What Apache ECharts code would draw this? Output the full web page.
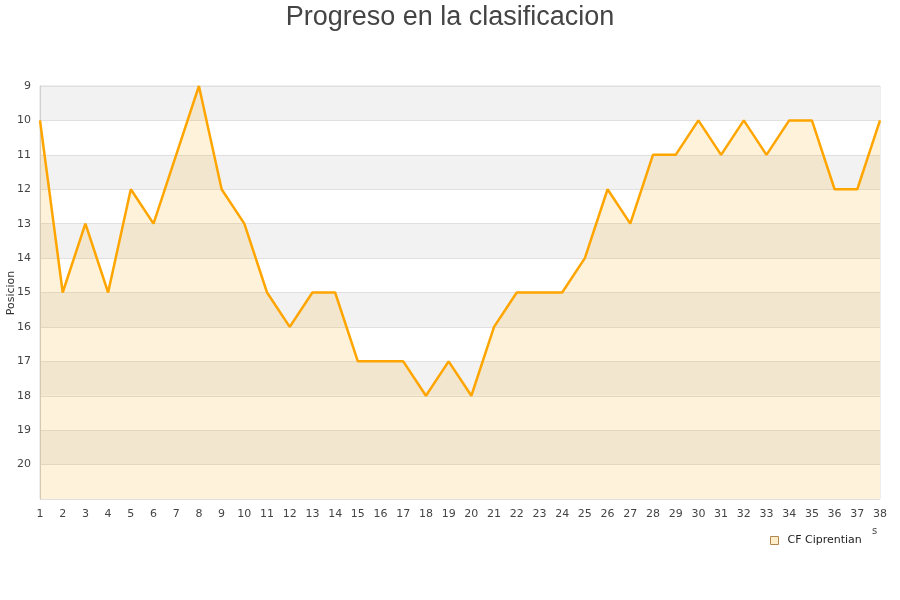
<!DOCTYPE html>
<html><head><meta charset="utf-8">
<script src="https://cdn.jsdelivr.net/npm/echarts@6/dist/echarts.min.js"></script>
<style>html,body{margin:0;padding:0;background:#fff}#c{width:900px;height:600px}</style>
</head><body><div id="c"></div>
<script>
const jornadas = ['1','2','3','4','5','6','7','8','9','10','11','12','13','14','15','16','17','18','19','20','21','22','23','24','25','26','27','28','29','30','31','32','33','34','35','36','37','38'];
const posiciones = [10,15,13,15,12,13,11,9,12,13,15,16,15,15,17,17,17,18,17,18,16,15,15,15,14,12,13,11,11,10,11,10,11,10,10,12,12,10];
const teamName = 'CF Ciprentian';
const titleText = 'Progreso en la clasificacion';
const yName = 'Posicion';

const chart = echarts.init(document.getElementById('c'));
chart.setOption({
  animation: false,
  title: { text: titleText, left: 'center', top: -1,
    textStyle: { fontFamily: 'Liberation Sans', fontSize: 27, fontWeight: 'normal', color: '#444' } },
  grid: { left: 40, right: 20, top: 86, bottom: 101, containLabel: false, outerBoundsMode: 'none' },
  legend: { left: 765, top: 530, itemWidth: 8, itemHeight: 8, icon: 'rect',
    data: [{ name: teamName, itemStyle: { color: 'rgba(255,165,0,0.2)', borderColor: '#b08850', borderWidth: 1 } }],
    textStyle: { fontFamily: 'DejaVu Sans', fontSize: 11, color: '#222', padding: [0, 0, 0, 4] } },
  xAxis: { type: 'category', data: jornadas, boundaryGap: false,
    axisLine: { show: false }, axisTick: { show: false },
    axisLabel: { fontFamily: 'DejaVu Sans', fontSize: 11, color: '#444', margin: 10, interval: 0 },
    splitLine: { show: false } },
  yAxis: { type: 'value', inverse: true, min: 9, max: 21, interval: 1,
    axisLine: { show: true, lineStyle: { color: '#d0d0d0' } }, axisTick: { show: false },
    axisLabel: { fontFamily: 'DejaVu Sans', fontSize: 11, color: '#444', margin: 9,
      formatter: v => v === 21 ? '' : String(v) },
    splitLine: { show: true, lineStyle: { color: '#e0e0e0' } },
    splitArea: { show: true, areaStyle: { color: ['#f2f2f2', '#ffffff'] } } },
  graphic: [
    { type: 'rect', shape: { x: 40, y: 86, width: 840, height: 413 }, style: { fill: 'none', stroke: '#dcdcdc', lineWidth: 1 }, z: 0, silent: true },
    { type: 'text', left: 872, top: 526, style: { text: 's', fontFamily: 'DejaVu Sans', fontSize: 10, fill: '#444' } },
    { type: 'text', x: 11, y: 293, rotation: Math.PI / 2,
      style: { text: yName, fontFamily: 'DejaVu Sans', fontSize: 11, fill: '#333', align: 'center', verticalAlign: 'middle' } }
  ],
  series: [{
    name: teamName, type: 'line', data: posiciones, showSymbol: false,
    lineStyle: { color: '#ffa500', width: 2.5 },
    itemStyle: { color: '#ffa500' },
    areaStyle: { color: 'rgba(255,165,0,0.2)', origin: 'end' }
  }]
});
</script></body></html>
